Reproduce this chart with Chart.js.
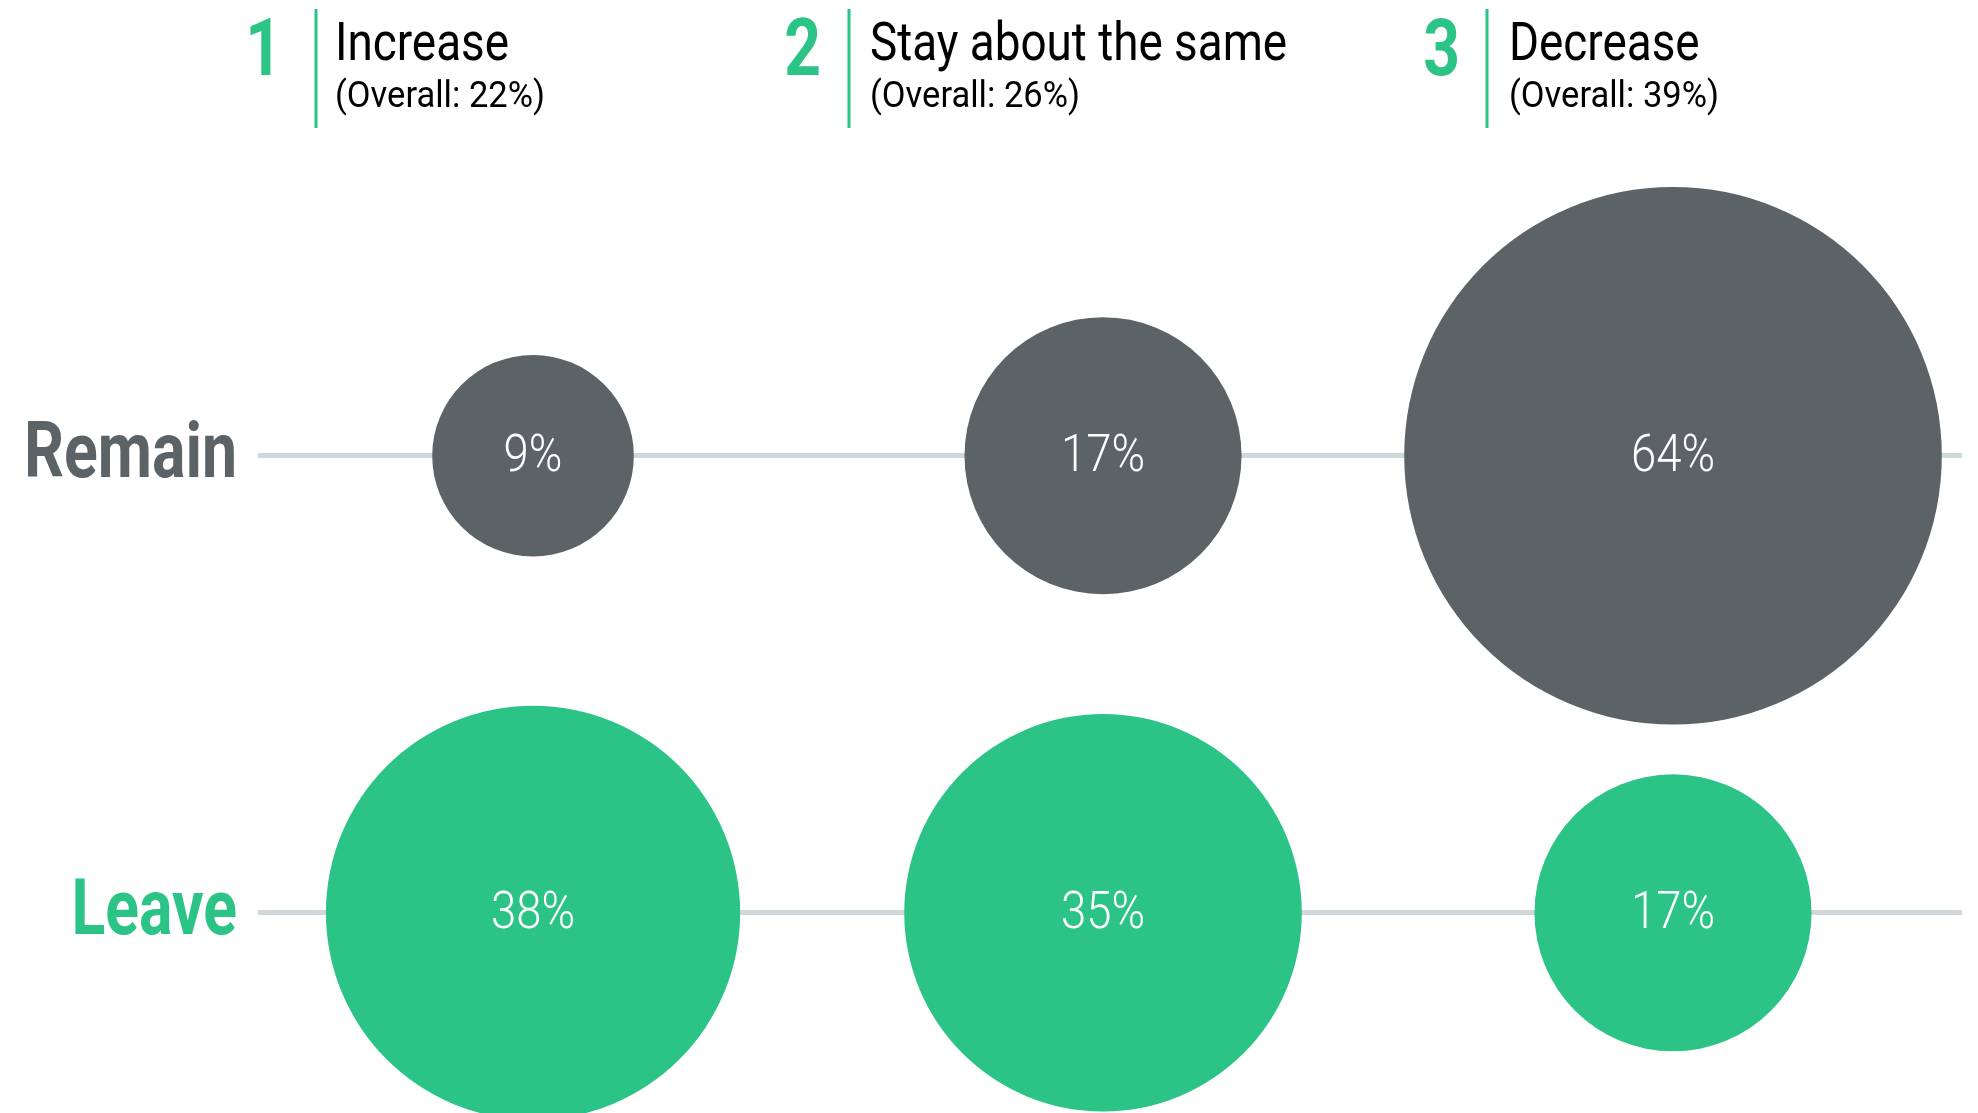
<!DOCTYPE html>
<html>
<head>
<meta charset="utf-8">
<script src="https://cdn.jsdelivr.net/npm/chart.js@4"></script>
<style>
  html, body { margin: 0; padding: 0; background: #fff; }
  #wrap { width: 1978px; height: 1113px; position: relative; }
</style>
</head>
<body>
<div id="wrap"><canvas id="bubbleChart"></canvas></div>
<script>
var categories = ["Increase", "Stay about the same", "Decrease"];
var overall = [22, 26, 39];
var groups = ["Remain", "Leave"];
var remainValues = [9, 17, 64];
var leaveValues = [38, 35, 17];

var GRAY = "#5b6366";
var GREEN = "#2bc486";
var FONT = "Roboto, 'Liberation Sans', sans-serif";

// circle area follows the value
function radiusFor(v) {
  return 33.6 * Math.sqrt(v);
}

function points(values, row) {
  return values.map(function (v, i) {
    return { x: i, y: row, r: radiusFor(v), v: v };
  });
}

// squeeze text horizontally so it looks like the condensed face of the original
function condensed(c, font, sample, width) {
  c.font = font;
  return width / c.measureText(sample).width;
}

function drawText(c, text, x, y, font, sx, align) {
  c.save();
  c.font = font;
  c.textAlign = align;
  c.textBaseline = "alphabetic";
  c.translate(x, y);
  c.scale(sx, 1);
  c.fillText(text, 0, 0);
  c.restore();
}

// header: number, divider and titles above each column
var headerPos = [
  { num: 282, line: 316, text: 335 },
  { num: 821, line: 849, text: 870 },
  { num: 1460, line: 1487, text: 1509 },
];

var headerPlugin = {
  id: "header",
  afterDraw: function (chart) {
    var c = chart.ctx;
    var numFont = "bold 80px " + FONT;
    var titleFont = "54px " + FONT;
    var subFont = "37px " + FONT;
    var sxBold = condensed(c, "bold 78px " + FONT, "Remain", 213);
    var sxTitle = condensed(c, titleFont, "Increase", 174);
    var sxSub = condensed(c, subFont, "(Overall: 22%)", 210);
    c.save();
    categories.forEach(function (cat, i) {
      var p = headerPos[i];
      c.fillStyle = GREEN;
      drawText(c, String(i + 1), p.num, 75, numFont, sxBold, "right");
      c.fillRect(p.line - 1.5, 9, 3, 119);
      c.fillStyle = "#000";
      drawText(c, cat, p.text, 60, titleFont, sxTitle, "left");
      drawText(c, "(Overall: " + overall[i] + "%)", p.text, 107, subFont, sxSub, "left");
    });
    // row labels beside the y axis
    var yScale = chart.scales.y;
    groups.forEach(function (g, i) {
      c.fillStyle = i === 0 ? GRAY : GREEN;
      drawText(c, g, yScale.right - 21, yScale.getPixelForValue(i) + 21, "bold 78px " + FONT, sxBold, "right");
    });
    c.restore();
  },
};

var valueLabels = {
  id: "valueLabels",
  afterDatasetsDraw: function (chart) {
    var c = chart.ctx;
    var font = "300 52px " + FONT;
    var sx = condensed(c, font, "64%", 84);
    c.save();
    c.fillStyle = "#fff";
    chart.data.datasets.forEach(function (ds, di) {
      chart.getDatasetMeta(di).data.forEach(function (el, i) {
        drawText(c, ds.data[i].v + "%", el.x, el.y + 15, font, sx, "center");
      });
    });
    c.restore();
  },
};

var ctx = document.getElementById("bubbleChart").getContext("2d");
var chart = new Chart(ctx, {
  type: "bubble",
  data: {
    datasets: [
      {
        label: "Remain",
        data: points(remainValues, 0),
        backgroundColor: GRAY,
        hoverBackgroundColor: GRAY,
        borderWidth: 0,
        clip: false,
      },
      {
        label: "Leave",
        data: points(leaveValues, 1),
        backgroundColor: GREEN,
        hoverBackgroundColor: GREEN,
        borderWidth: 0,
        clip: false,
      },
    ],
  },
  options: {
    responsive: true,
    maintainAspectRatio: false,
    animation: false,
    layout: { autoPadding: false, padding: { top: 130, right: 16, bottom: 0, left: 0 } },
    scales: {
      x: {
        type: "linear",
        min: -0.4825,
        max: 2.507,
        display: false,
      },
      y: {
        type: "linear",
        reverse: true,
        min: -0.7127,
        max: 1.438,
        afterBuildTicks: function (scale) {
          scale.ticks = groups.map(function (g, i) { return { value: i }; });
        },
        afterFit: function (scale) {
          scale.width = 258;
        },
        border: { display: false },
        grid: {
          color: "#d0d8dc",
          lineWidth: 5,
          drawTicks: false,
        },
        ticks: { display: false },
      },
    },
    plugins: {
      legend: { display: false },
      tooltip: { enabled: false },
    },
  },
  plugins: [headerPlugin, valueLabels],
});
</script>
</body>
</html>
